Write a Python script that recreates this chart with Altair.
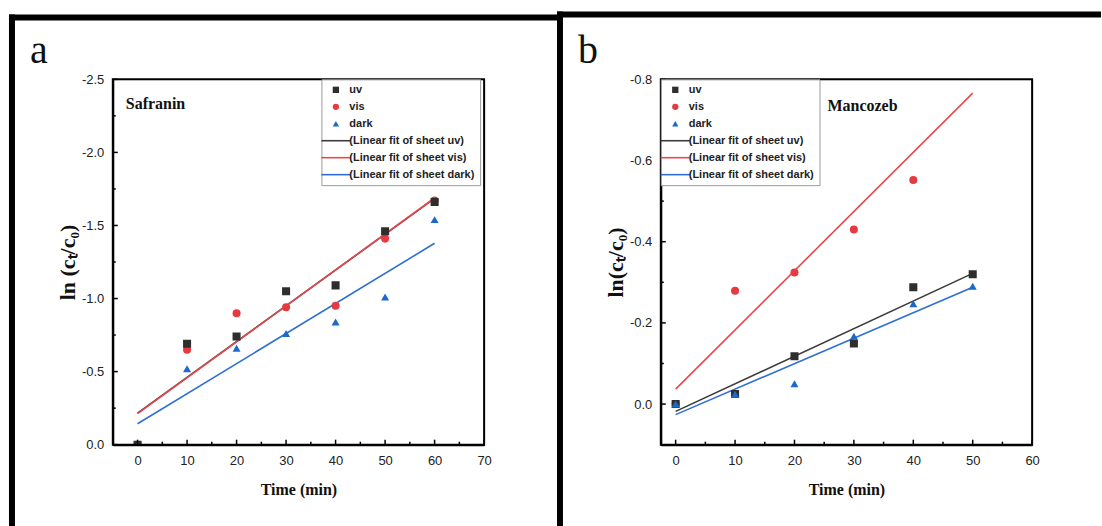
import altair as alt
import pandas as pd

# ---- measured data: ln(c_t/c_0) versus irradiation time ----
time_a = [0, 10, 20, 30, 40, 50, 60]
safranin_uv = [0.0, -0.69, -0.74, -1.05, -1.09, -1.46, -1.66]
safranin_vis = [0.0, -0.65, -0.90, -0.94, -0.95, -1.41, -1.67]
safranin_dark = [0.0, -0.52, -0.66, -0.76, -0.84, -1.01, -1.54]

time_b = [0, 10, 20, 30, 40, 50]
mancozeb_uv = [0.0, -0.025, -0.118, -0.149, -0.288, -0.320]
mancozeb_vis = [0.0, -0.279, -0.324, -0.430, -0.552, None]
mancozeb_dark = [0.0, -0.024, -0.050, -0.167, -0.247, -0.290]

# ---- linear fits: value at the first and last sampling time ----
fit_time_a = [0, 60]
safranin_fit_uv = [-0.216, -1.685]
safranin_fit_vis = [-0.212, -1.688]
safranin_fit_dark = [-0.143, -1.378]

fit_time_b = [0, 50]
mancozeb_fit_uv = [0.018, -0.322]
mancozeb_fit_vis = [-0.037, -0.766]
mancozeb_fit_dark = [0.026, -0.288]

series_names = ["uv", "vis", "dark"]
fit_names = [
    "(Linear fit of sheet uv)",
    "(Linear fit of sheet vis)",
    "(Linear fit of sheet dark)",
]

# ---- axis ticks ----
a_x_ticks = [0, 10, 20, 30, 40, 50, 60, 70]
a_x_minor = [5, 15, 25, 35, 45, 55, 65]
a_y_ticks = [-2.5, -2.0, -1.5, -1.0, -0.5, 0.0]
a_y_minor = [-2.25, -1.75, -1.25, -0.75, -0.25]

b_x_ticks = [0, 10, 20, 30, 40, 50, 60]
b_x_minor = [5, 15, 25, 35, 45, 55]
b_y_ticks = [-0.8, -0.6, -0.4, -0.2, 0.0]
b_y_minor = [-0.7, -0.5, -0.3, -0.1]

# ---- styling ----
W, H = 372, 366
marker_colors = ["#2e2e2e", "#e53a3f", "#1d68cc"]
fit_colors = ["#3a3a3a", "#e9474c", "#2d6fd4"]
LINE_SYMBOL = "M-4.6,-0.25H4.6V0.25H-4.6Z"
SERIF = "Liberation Serif"
SANS = "Liberation Sans"
ONE = pd.DataFrame({"k": [0]})

# squares are drawn over the circles where they coincide
DRAW_ORDER = ["vis", "uv", "dark"]


def pixel_rect(x, x2, y, y2, **style):
    return (
        alt.Chart(ONE)
        .mark_rect(**style)
        .encode(x=alt.value(x), x2=alt.value(x2), y=alt.value(y), y2=alt.value(y2))
    )


def panel(times, series_vals, fit_times, fit_vals, x_domain, y_domain,
          x_ticks, x_minor, y_ticks, y_minor, y_title, name, name_xy, letter,
          legend_x, frame_top, frame_right):
    rows = []
    for s in DRAW_ORDER:
        for t, v in zip(times, series_vals[s]):
            if v is not None:
                rows.append({"t": t, "v": v, "series": s})
    df = pd.DataFrame(rows)

    xs = alt.Scale(domain=x_domain, nice=False, zero=False)
    ys = alt.Scale(domain=y_domain, nice=False, zero=False)
    cs = alt.Scale(domain=series_names + fit_names, range=marker_colors + fit_colors)
    ss = alt.Scale(domain=series_names + fit_names,
                   range=["square", "circle", "triangle-up",
                          LINE_SYMBOL, LINE_SYMBOL, LINE_SYMBOL])

    legend = alt.Legend(
        title=None, orient="none", legendX=legend_x, legendY=0,
        padding=5, rowPadding=5, symbolOffset=4, labelOffset=8,
        symbolSize=40,
        labelFont=SANS, labelFontSize=11, labelFontWeight="bold",
        labelColor="#222222", strokeColor="#9a9a9a", fillColor="white",
        symbolStrokeWidth=0,
    )

    x_axis = alt.Axis(
        values=x_ticks, format="d", title="Time (min)", grid=False,
        ticks=False, tickSize=0, labelFlush=False,
        domainColor="black", domainWidth=2,
        labelFont=SANS, labelFontSize=13, labelColor="#222222", labelPadding=10,
        titleFont=SERIF, titleFontSize=16, titleFontWeight="bold",
        titleColor="#111111", titlePadding=14,
    )
    y_axis = alt.Axis(
        values=y_ticks, title=y_title, grid=False,
        labelExpr="replace(format(datum.value, '.1f'), '\u2212', '-')",
        ticks=False, tickSize=0, labelFlush=False,
        domainColor="black", domainWidth=2,
        labelFont=SANS, labelFontSize=13, labelColor="#222222", labelPadding=9,
        titleFont=SERIF, titleFontSize=22, titleFontWeight="bold",
        titleColor="#111111", titlePadding=2,
    )
    X = alt.X("t:Q", scale=xs, axis=x_axis)
    Y = alt.Y("v:Q", scale=ys, axis=y_axis)

    # fitted straight lines, drawn uv -> vis -> dark
    fits = [
        alt.Chart(pd.DataFrame({"t": fit_times, "v": fit_vals[s]}))
        .mark_line(strokeWidth=1.6, clip=True, color=c)
        .encode(x=X, y=Y)
        for s, c in zip(series_names, fit_colors)
    ]

    points = (
        alt.Chart(df)
        .mark_point(filled=True, size=65, opacity=1, clip=True)
        .encode(
            x=X, y=Y,
            color=alt.Color("series:N", scale=cs, legend=legend),
            shape=alt.Shape("series:N", scale=ss, legend=legend),
        )
    )

    def xtick(vals, length):
        return (
            alt.Chart(pd.DataFrame({"t": vals}))
            .mark_rule(color="black", strokeWidth=1.5)
            .encode(x=X, y=alt.value(H), y2=alt.value(H - length))
        )

    def ytick(vals, length):
        return (
            alt.Chart(pd.DataFrame({"v": vals}))
            .mark_rule(color="black", strokeWidth=1.5)
            .encode(y=Y, x=alt.value(0), x2=alt.value(length))
        )

    name_text = (
        alt.Chart(ONE)
        .mark_text(text=name, align="left", baseline="middle", font=SERIF,
                   fontSize=16, fontWeight="bold", color="#111111")
        .encode(x=alt.value(name_xy[0]), y=alt.value(name_xy[1]))
    )
    letter_text = (
        alt.Chart(ONE)
        .mark_text(text=letter, align="left", baseline="alphabetic", font=SERIF,
                   fontSize=40, color="#111111")
        .encode(x=alt.value(-83), y=alt.value(-16))
    )

    frame = [
        pixel_rect(-104, -98, frame_top, 448, color="black"),
        pixel_rect(-104, frame_right, frame_top, frame_top + 6, color="black"),
    ]
    plot_box = pixel_rect(0, W, 0, H, filled=False, stroke="black", strokeWidth=2)

    return alt.layer(
        *frame,
        *fits,
        points,
        xtick(x_ticks, 5), xtick(x_minor, 3),
        ytick(y_ticks, 5), ytick(y_minor, 3),
        plot_box,
        name_text, letter_text,
    ).properties(width=W, height=H)


panel_a = panel(
    time_a,
    {"uv": safranin_uv, "vis": safranin_vis, "dark": safranin_dark},
    fit_time_a,
    {"uv": safranin_fit_uv, "vis": safranin_fit_vis, "dark": safranin_fit_dark},
    [-5, 70], [0.0, -2.5], a_x_ticks, a_x_minor, a_y_ticks, a_y_minor,
    "ln (c\u209c/c\u2080)", "Safranin", (13, 25), "a", 209, -65, 448,
)
panel_b = panel(
    time_b,
    {"uv": mancozeb_uv, "vis": mancozeb_vis, "dark": mancozeb_dark},
    fit_time_b,
    {"uv": mancozeb_fit_uv, "vis": mancozeb_fit_vis, "dark": mancozeb_fit_dark},
    [-2.5, 60], [0.1, -0.8], b_x_ticks, b_x_minor, b_y_ticks, b_y_minor,
    "ln(c\u209c/c\u2080)", "Mancozeb", (167, 27), "b", 0, -68, 441,
)

chart = (
    alt.hconcat(panel_a, panel_b, spacing=177, bounds="flush")
    .resolve_scale(color="independent", shape="independent")
    .properties(padding={"left": 8, "top": 10, "right": 0, "bottom": 0})
    .configure_view(stroke=None)
    .configure(background="white")
)

chart.save("out.html", embed_options={"renderer": "svg", "actions": False})
